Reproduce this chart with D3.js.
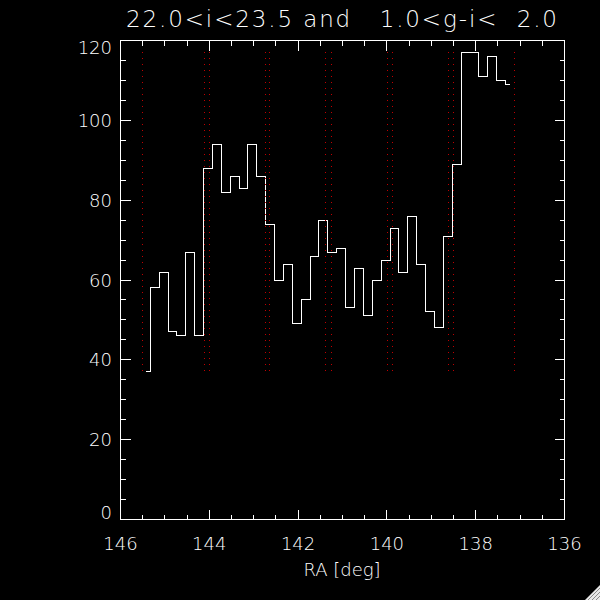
<!DOCTYPE html>
<html>
<head>
<meta charset="utf-8">
<script src="https://cdn.jsdelivr.net/npm/d3@7"></script>
<style>
  html, body { margin: 0; padding: 0; background: #000; }
  svg { display: block; }
  text { font-family: "DejaVu Sans", sans-serif; font-weight: 200; fill: #fff; white-space: pre; }
</style>
</head>
<body>
<svg id="chart" width="600" height="600"></svg>
<script>
// ---- data ----
const titleText = "22.0<i<23.5 and   1.0<g-i<  2.0";
const xLabel = "RA [deg]";
const raCenters = [145.43, 145.23, 145.03, 144.83, 144.63, 144.43, 144.23, 144.03, 143.83, 143.63,
                   143.43, 143.23, 143.03, 142.83, 142.63, 142.43, 142.23, 142.03, 141.83, 141.63,
                   141.43, 141.23, 141.03, 140.83, 140.63, 140.43, 140.23, 140.03, 139.83, 139.63,
                   139.43, 139.23, 139.03, 138.83, 138.63, 138.43, 138.23, 138.03, 137.83, 137.63,
                   137.43, 137.23];
const counts = [37, 58, 62, 47, 46, 67, 46, 88, 94, 82,
                86, 83, 94, 86, 74, 60, 64, 49, 55, 66,
                75, 67, 68, 53, 63, 51, 60, 65, 73, 62,
                76, 64, 52, 48, 71, 89, 117, 117, 111, 116,
                110, 109];
const markerRA = [145.50, 144.10, 143.99, 142.73, 142.63, 141.38, 141.24, 139.98, 139.87, 138.61, 138.50, 137.12];
const xTickLabels = [146, 144, 142, 140, 138, 136];
const yTickLabels = [0, 20, 40, 60, 80, 100, 120];

// ---- layout ----
const svg = d3.select("#chart");
const L = 120, R = 564, T = 40, B = 519;
const x = d3.scaleLinear().domain([146, 136]).range([L + 0.5, R + 0.5]);
const y = d3.scaleLinear().domain([0, 120]).range([B + 0.5, T + 0.5]);

const g = svg.append("g").attr("shape-rendering", "crispEdges");

// histogram (IDL psym=10 style)
const line = d3.line().x((d, i) => x(raCenters[i])).y(d => y(d)).curve(d3.curveStep);
g.append("path").datum(counts).attr("d", line)
  .attr("fill", "none").attr("stroke", "#fff").attr("stroke-width", 1);

// dotted marker lines spanning min..max of histogram
const yMin = d3.min(counts), yMax = d3.max(counts);
g.selectAll("line.marker").data(markerRA).join("line")
  .attr("class", "marker")
  .attr("x1", d => Math.round(x(d)) - 0.5).attr("x2", d => Math.round(x(d)) - 0.5)
  .attr("y1", y(yMax)).attr("y2", y(yMin))
  .attr("stroke", "#c00000").attr("stroke-width", 1)
  .attr("stroke-dasharray", "1,5");

// frame
g.append("rect").attr("x", L + 0.5).attr("y", T + 0.5)
  .attr("width", R - L).attr("height", B - T)
  .attr("fill", "none").attr("stroke", "#fff").attr("stroke-width", 1);

// ticks, inward on all sides
const xMinor = d3.range(0, 21).map(i => 146 - i * 0.5);
const yMinor = d3.range(0, 25).map(i => i * 5);
xMinor.forEach(v => {
  const len = (Math.abs(v % 2) < 1e-9) ? 10 : 5;
  const px = x(v);
  g.append("line").attr("x1", px).attr("x2", px).attr("y1", y(0)).attr("y2", y(0) - len).attr("stroke", "#fff");
  g.append("line").attr("x1", px).attr("x2", px).attr("y1", y(120)).attr("y2", y(120) + len).attr("stroke", "#fff");
});
yMinor.forEach(v => {
  const len = (v % 20 === 0) ? 10 : 5;
  const py = y(v);
  g.append("line").attr("y1", py).attr("y2", py).attr("x1", x(146)).attr("x2", x(146) + len).attr("stroke", "#fff");
  g.append("line").attr("y1", py).attr("y2", py).attr("x1", x(136)).attr("x2", x(136) - len).attr("stroke", "#fff");
});

// tick labels
svg.selectAll("text.xt").data(xTickLabels).join("text")
  .attr("class", "xt").attr("x", d => x(d)).attr("y", 549.5)
  .attr("text-anchor", "middle").attr("font-size", 18).text(d => d);

svg.selectAll("text.yt").data(yTickLabels).join("text")
  .attr("class", "yt").attr("x", 112)
  .attr("y", d => Math.max(T + 7.5, Math.min(B - 6.5, y(d))) + 6.5)
  .attr("text-anchor", "end").attr("font-size", 18).text(d => d);

// axis title
svg.append("text").attr("x", 342).attr("y", 576).attr("text-anchor", "middle")
  .attr("font-size", 18).text(xLabel);

// plot title
svg.append("text").attr("x", 126).attr("y", 27)
  .attr("font-size", 23).attr("textLength", 431).attr("lengthAdjust", "spacing")
  .text(titleText);

// window resize grip (bottom-right corner)
const grip = svg.append("g");
grip.append("path").attr("d", "M600,585 L600,600 L585,600 Z").attr("fill", "#e8e8e8");
[0, 4, 8].forEach(o => {
  grip.append("line").attr("x1", 588 + o).attr("y1", 600).attr("x2", 600).attr("y2", 588 + o)
    .attr("stroke", "#8a8a8a").attr("stroke-width", 1);
});
</script>
</body>
</html>
